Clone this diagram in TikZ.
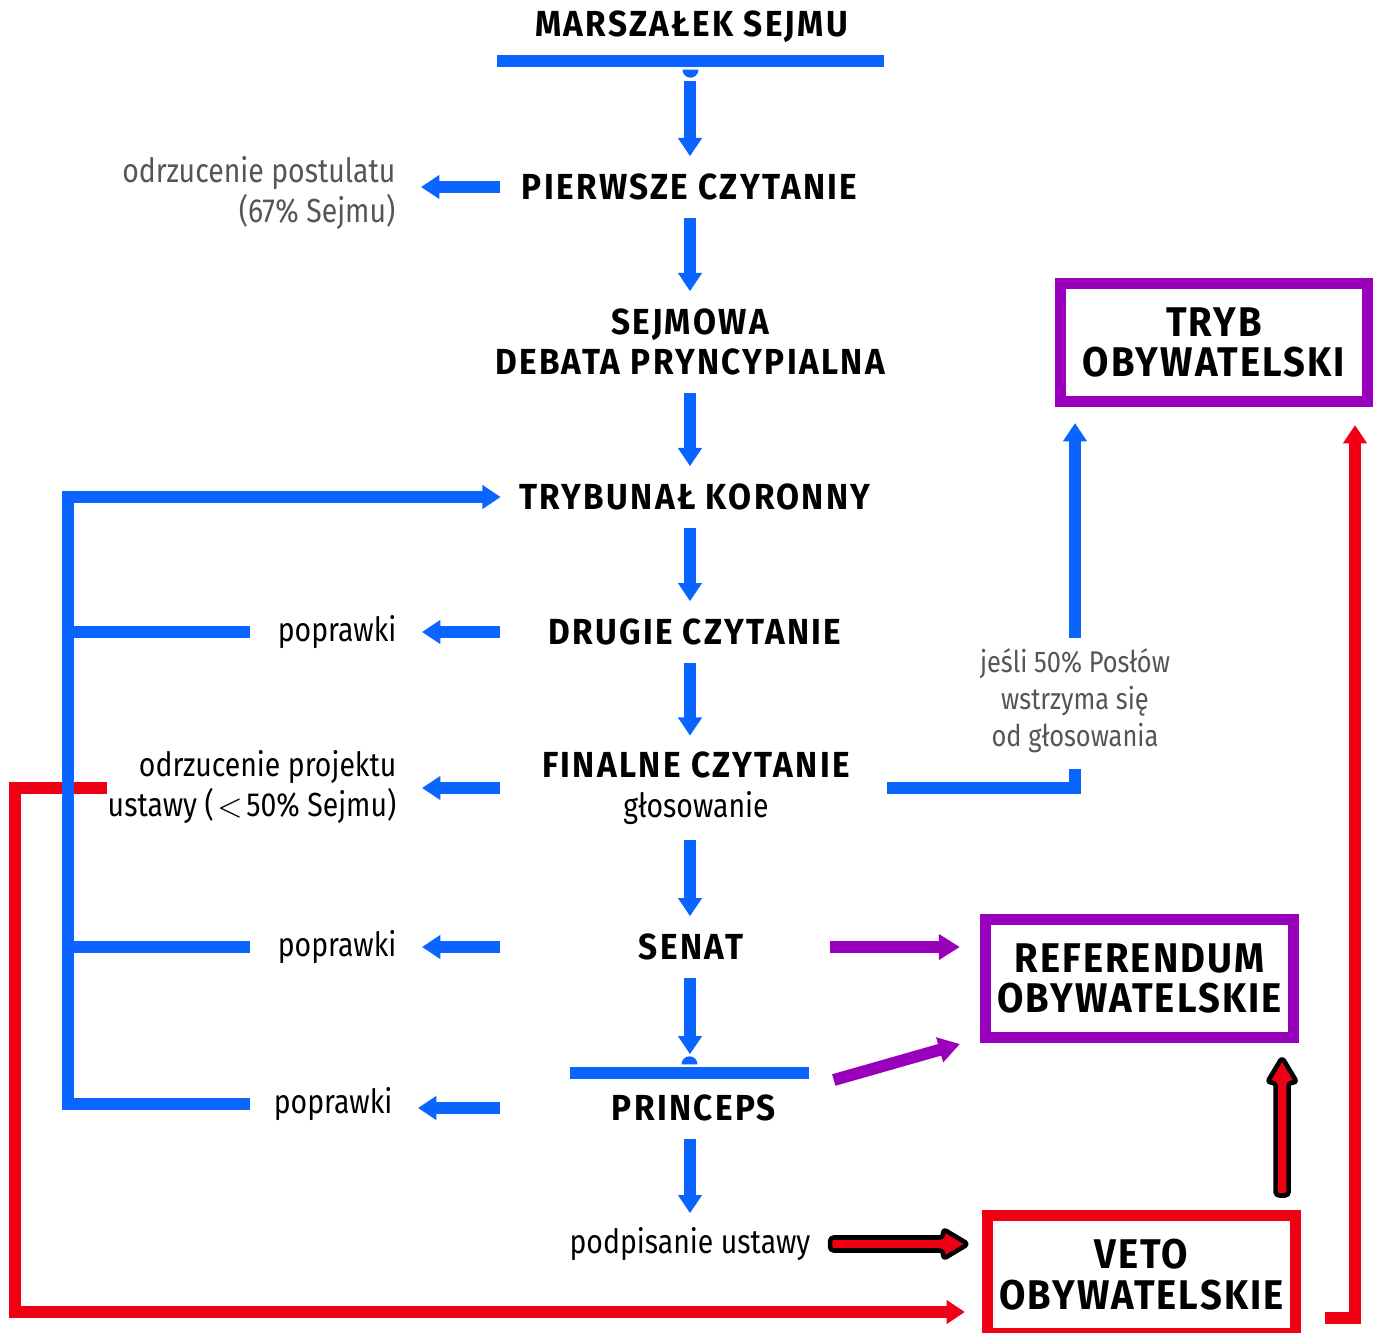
\documentclass[tikz,border=0pt]{standalone}
\usepackage{fontspec}
\setmainfont{Fira Sans}
\newfontfamily\glowny[FakeStretch=0.92,LetterSpace=6.5]{Fira Sans}
\newfontfamily\ramkowy[FakeStretch=0.92,LetterSpace=5]{Fira Sans}
\newfontfamily\opisowy[FakeStretch=0.85]{Fira Sans}
\usetikzlibrary{
  arrows.meta,
  calc,
  }
\definecolor{niebieski}{RGB}{10,100,255}
\definecolor{czerwony}{RGB}{240,0,20}
\definecolor{fiolet}{RGB}{153,0,187}
\definecolor{szary}{RGB}{85,85,85}

\begin{document}
\begin{tikzpicture}[x=0.01cm, y=-0.01cm,
    etap/.style={font=\glowny\bfseries\fontsize{10.3}{11.4}\selectfont, align=center, inner sep=0pt, minimum height=6mm},
    opis/.style={font=\opisowy\fontsize{9.5}{11.6}\selectfont, inner sep=0pt},
    ramka/.style={draw, line width=3.1pt, outer sep=0pt, inner sep=0pt, minimum width=3.07cm, minimum height=1.18cm,
      align=center, font=\ramkowy\bfseries\fontsize{11.8}{11.6}\selectfont},
    belka/.style={fill=niebieski, inner sep=0pt, minimum height=0.12cm},
    linia/.style={draw=niebieski, line width=3.4pt},
    strzalka/.style={linia, -{Triangle[width=6.5pt,length=5.2pt]}},
    fioletowa/.style={draw=fiolet, line width=3.4pt, -{Triangle[width=7pt,length=6pt]}},
    czerwona/.style={draw=czerwony, line width=3.4pt, -{Triangle[width=6.5pt,length=5.2pt]}},
    gruba/.style={draw=black, fill=czerwony, line width=1.3pt, rounded corners=1pt, line join=round},
  ]
  \useasboundingbox (0,0) rectangle (1378,1333);
  \coordinate (os) at (690,0);
  \coordinate (lewa) at (500,0);
  \coordinate (szyna) at (68,0);
  \coordinate (rog) at (15,1312);
  \coordinate (rog2) at (1355,1318);

  \node[etap] (marszalek) at (691.5,27) {MARSZAŁEK SEJMU};
  \node[belka, minimum width=3.87cm] (belka1) at (690.5,60.5) {};
  \node[etap] (czyt1) at (689.5,187) {PIERWSZE CZYTANIE};
  \node[etap, minimum height=1cm] (debata) at (690,342) {SEJMOWA\\DEBATA PRYNCYPIALNA};
  \node[etap] (trybunal) at (695,497) {TRYBUNAŁ KORONNY};
  \node[etap] (czyt2) at (695,632) {DRUGIE CZYTANIE};
  \node[etap, minimum height=1.03cm] (finalne) at (696,788)
    {FINALNE CZYTANIE\\{\opisowy\mdseries\fontsize{9.5}{11}\selectfont głosowanie}};
  \node[etap] (senat) at (691,947) {SENAT};
  \node[belka, minimum width=2.39cm] (belka2) at (689.5,1073) {};
  \node[etap] (princeps) at (694,1108) {PRINCEPS};
  \node[opis, minimum height=6mm] (podpis) at (690,1244) {podpisanie ustawy};

  \node[opis, szary, anchor=east, align=right] (odrz1) at (396,193) {odrzucenie postulatu\\(67\% Sejmu)};
  \node[opis, anchor=east] (popr1) at (397,632) {poprawki};
  \node[opis, anchor=east, align=right] (odrz2) at (397,787) {odrzucenie projektu\\ustawy (\kern1pt$<$\kern1pt50\% Sejmu)};
  \node[opis, anchor=east] (popr2) at (397,947) {poprawki};
  \node[opis, anchor=east] (popr3) at (393,1104) {poprawki};
  \node[opis, szary, align=center, font=\opisowy\fontsize{8.5}{10.5}\selectfont] (jesli) at (1075,701)
    {jeśli 50\% Posłów\\wstrzyma się\\od głosowania};

  \node[ramka, draw=fiolet] (tryb) at (1214,342.5) {TRYB\\OBYWATELSKI};
  \node[ramka, draw=fiolet] (ref) at (1139.5,978.5) {REFERENDUM\\OBYWATELSKIE};
  \node[ramka, draw=czerwony] (veto) at (1141.5,1274.5) {VETO\\OBYWATELSKIE};

  \draw[czerwona, shorten >=0.23cm] (odrz2.west |- finalne) -| (rog) -- (rog -| veto.west);
  \draw[czerwona, shorten <=0.3cm, shorten >=0.235cm] (rog2 -| veto.east) -- (rog2) -- (rog2 |- tryb.south);

  \fill[niebieski] (belka1.south) ++(-8,2.5) arc[start angle=180, end angle=0, radius=8];
  \fill[niebieski] (belka2.north) ++(-8,-2) arc[start angle=180, end angle=360, radius=8];
  \draw[strzalka, shorten <=0.135cm] (os |- belka1.south) -- (os |- czyt1.north);
  \foreach \a/\b in {czyt1/debata, debata/trybunal, trybunal/czyt2, czyt2/finalne, finalne/senat, princeps/podpis}
    \draw[strzalka] (os |- \a.south) -- (os |- \b.north);
  \draw[strzalka, shorten >=0.12cm] (os |- senat.south) -- (os |- belka2.north);

  \foreach \a/\b in {czyt1/odrz1, czyt2/popr1, finalne/odrz2, senat/popr2, princeps/popr3}
    \draw[strzalka, shorten >=0.25cm] (lewa |- \a) -- (\a -| \b.east);

  \draw[strzalka, shorten >=0.18cm] ([xshift=-0.23cm]popr3.west) -| (szyna |- trybunal) -- (trybunal.west);
  \foreach \p in {popr1, popr2}
    \draw[linia] (szyna |- \p) -- ([xshift=-0.27cm]\p.west);

  \draw[linia] ([xshift=0.37cm]finalne.east) -| ([yshift=-0.15cm]jesli.south);
  \draw[strzalka, shorten >=0.215cm] ([yshift=0.1cm]jesli.north) -- (jesli.north |- tryb.south);

  \draw[fioletowa, shorten <=0.86cm, shorten >=0.26cm] (senat.east) -- (senat -| ref.west);
  \draw[fioletowa] ($(belka2.east)+(24,7)$) -- ($(ref.south west)+(-26,6.5)$);

  \draw[gruba] ($(podpis.east)+(19,0)$) ++(0,-6.5) -- ++(113,0) -- ++(0,-8.5) -- ++(25,15)
    -- ++(-25,15) -- ++(0,-8.5) -- ++(-113,0) -- cycle;
  \draw[gruba] ($(veto.north east)+(-13,-20)$) ++(-6.5,0) -- ++(0,-113) -- ++(-8.5,0) -- ++(15,-25)
    -- ++(15,25) -- ++(-8.5,0) -- ++(0,113) -- cycle;
\end{tikzpicture}
\end{document}
